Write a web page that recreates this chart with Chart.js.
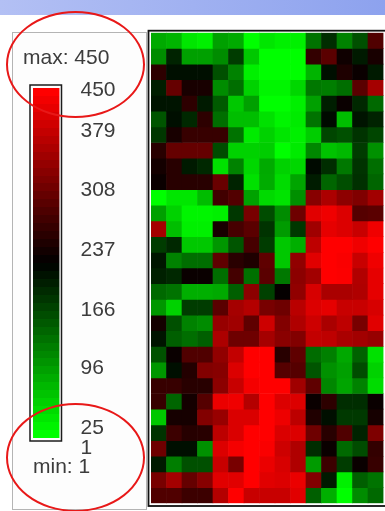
<!DOCTYPE html>
<html>
<head>
<meta charset="utf-8">
<script src="https://cdn.jsdelivr.net/npm/chart.js@4.4.1/dist/chart.umd.min.js"></script>
<style>
  html, body { margin:0; padding:0; background:#ffffff; width:385px; height:511px; overflow:hidden; }
  body { position:relative; font-family:"Liberation Sans", Arial, sans-serif; }
  #band { position:absolute; left:0; top:0; width:385px; height:15px; background:linear-gradient(to right,#b3c0f4,#8da2ee); }
  #panel { position:absolute; left:12px; top:32px; width:135px; height:478px; box-sizing:border-box; border:1px solid #b4b4b4; background:#fdfdfd; }
  canvas { position:absolute; left:0; top:0; }
  .txt { position:absolute; color:#3c3c3c; font-size:21px; line-height:21px; white-space:nowrap; }
  .ring { position:absolute; box-sizing:border-box; border:2px solid #e81818; border-radius:50%; }
</style>
</head>
<body>
<div id="band"></div>
<div id="panel"></div>
<canvas id="legend" width="147" height="511"></canvas>
<canvas id="heat" width="385" height="511"></canvas>
<div class="txt" id="maxTxt" style="left:23px;top:46px;"></div>
<div class="txt" id="minTxt" style="left:33px;top:455px;"></div>
<div class="ring" style="left:6px;top:11px;width:139px;height:107px;"></div>
<div class="ring" style="left:6px;top:403px;width:139px;height:109px;"></div>
<script>
// ---------------- data ----------------
const columnLabels = ['C1','C2','C3','C4','C5','C6','C7','C8','C9','C10','C11','C12','C13','C14','C15'];
const rowLabels = Array.from({length: 30}, (_, i) => 'R' + (i + 1));
const heatRows = [
  [76,67,23,14,85,76,1,23,14,14,124,186,111,155,296],
  [102,195,85,85,102,173,49,1,1,1,270,305,239,203,247],
  [265,212,212,212,155,111,14,1,1,1,67,212,252,234,203],
  [199,314,247,247,102,129,41,10,10,36,120,115,129,305,371],
  [208,208,265,203,146,49,85,1,1,14,85,199,234,190,133],
  [151,212,190,265,129,58,58,27,10,19,124,217,58,208,195],
  [177,247,274,274,274,124,19,41,23,14,45,164,155,181,164],
  [261,314,314,314,159,41,41,45,1,19,107,54,63,173,98],
  [243,261,203,190,27,111,36,76,41,36,217,186,120,181,129],
  [234,261,261,261,318,195,27,74,32,80,201,137,157,183,137],
  [1,23,23,60,283,298,83,34,25,100,344,377,350,338,368],
  [85,41,10,10,14,177,331,159,102,322,424,437,419,300,305],
  [371,58,14,14,247,287,305,181,89,177,366,428,419,402,437],
  [173,190,49,49,93,151,287,173,49,71,393,450,450,437,450],
  [206,111,129,129,309,262,252,309,49,353,424,450,446,402,437],
  [197,190,234,234,129,285,127,305,120,349,368,450,447,381,428],
  [133,124,71,71,76,142,349,168,230,353,415,375,375,380,428],
  [93,41,173,173,305,371,384,331,322,388,419,428,402,402,415],
  [243,155,111,102,358,366,309,406,340,380,406,375,393,331,424],
  [208,142,129,142,377,322,322,371,347,340,397,393,375,368,358],
  [153,234,296,296,353,397,450,450,261,309,130,113,78,139,27],
  [93,212,256,340,344,419,450,450,300,300,151,98,85,159,41],
  [274,274,261,261,349,402,441,450,450,366,309,107,80,111,32],
  [274,137,243,300,432,437,384,450,419,419,234,265,186,186,234],
  [49,245,245,340,359,417,417,450,435,391,254,212,175,175,245],
  [181,278,259,261,391,417,450,450,417,419,322,261,296,195,336],
  [322,212,212,98,419,441,450,446,406,380,186,234,133,159,270],
  [203,115,155,155,402,331,450,432,415,380,89,278,173,234,274],
  [331,371,314,344,424,424,450,424,419,432,340,203,14,142,124],
  [296,296,278,278,384,450,402,402,402,424,142,71,1,102,133]
];
const legendTickValues = [450, 379, 308, 237, 166, 96, 25, 1];
const legendTickLabels = ['450', '379', '308', '237', '166', '96', '25', '1'];

// ---------------- helpers ----------------
const allValues = heatRows.flat();
const dataMin = Math.min(...allValues);
const dataMax = Math.max(...allValues);
const FONT = '"Liberation Sans", Arial, sans-serif';

function colorFor(v) {
  const t = Math.max(0, Math.min(1, (v - dataMin) / (dataMax - dataMin)));
  if (t < 0.5) return `rgb(0,${Math.round(255 * (1 - 2 * t))},0)`;
  return `rgb(${Math.round(255 * (2 * t - 1))},0,0)`;
}

document.getElementById('maxTxt').textContent = 'max: ' + dataMax;
document.getElementById('minTxt').textContent = 'min: ' + dataMin;

const frame = (off, lw, color) => ({
  id: 'frame',
  afterDraw(chart) {
    const a = chart.chartArea, c = chart.ctx;
    c.save();
    c.strokeStyle = color; c.lineWidth = lw;
    c.strokeRect(a.left - off.l, a.top - off.t, a.right - a.left + off.l + off.r, a.bottom - a.top + off.t + off.b);
    c.restore();
  }
});

// ---------------- colour legend ----------------
const STEPS = 44;
function steppedGradient(context) {
  const chart = context.chart; const a = chart.chartArea;
  if (!a) return '#000';
  const g = chart.ctx.createLinearGradient(0, a.bottom, 0, a.top);
  for (let i = 0; i < STEPS; i++) {
    const col = colorFor(dataMin + (dataMax - dataMin) * i / (STEPS - 1));
    g.addColorStop(i / STEPS, col);
    g.addColorStop((i + 1) / STEPS, col);
  }
  return g;
}

new Chart(document.getElementById('legend'), {
  type: 'bar',
  data: {
    labels: ['scale'],
    datasets: [{ data: [[dataMin, dataMax]], backgroundColor: steppedGradient, borderWidth: 0,
                 barPercentage: 1, categoryPercentage: 1, yAxisID: 'y' }]
  },
  options: {
    responsive: false, animation: false, devicePixelRatio: 1,
    layout: { padding: { left: 33, top: 88, bottom: 73, right: 0 } },
    plugins: { legend: { display: false }, tooltip: { enabled: false } },
    scales: {
      x: { display: false },
      y: { display: false, min: dataMin, max: dataMax },
      y2: {
        position: 'right', min: 13.1, max: 430.3,
        grid: { display: false, drawTicks: false }, border: { display: false },
        ticks: { padding: 21, color: '#3c3c3c', font: { family: FONT, size: 21 },
                 autoSkip: false, callback: (v, i) => legendTickLabels[i] },
        afterBuildTicks: s => { s.ticks = legendTickValues.map(v => ({ value: Math.min(v, s.max - 2.8) })); },
        afterFit: s => { s.width = 87.5; }
      }
    }
  },
  plugins: [frame({ l: 3, r: 2, t: 3, b: 3 }, 1.5, '#1c1c1c')]
});

// ---------------- heatmap ----------------
new Chart(document.getElementById('heat'), {
  type: 'bar',
  data: {
    labels: columnLabels,
    datasets: heatRows.map((row, r) => ({
      label: rowLabels[r],
      data: row.map(() => 1),
      backgroundColor: row.map(colorFor),
      borderWidth: 0, barPercentage: 1, categoryPercentage: 1
    }))
  },
  options: {
    responsive: false, animation: false, devicePixelRatio: 1,
    layout: { padding: { left: 151, top: 32.7, right: 1.5, bottom: 7.7 } },
    plugins: { legend: { display: false }, tooltip: { enabled: false } },
    scales: {
      x: { display: false, stacked: true },
      y: { display: false, stacked: true, min: 0, max: rowLabels.length, reverse: true }
    }
  },
  plugins: [frame({ l: 2.5, r: 2.5, t: 2, b: 2.7 }, 1.8, '#111111')]
});
</script>
</body>
</html>
